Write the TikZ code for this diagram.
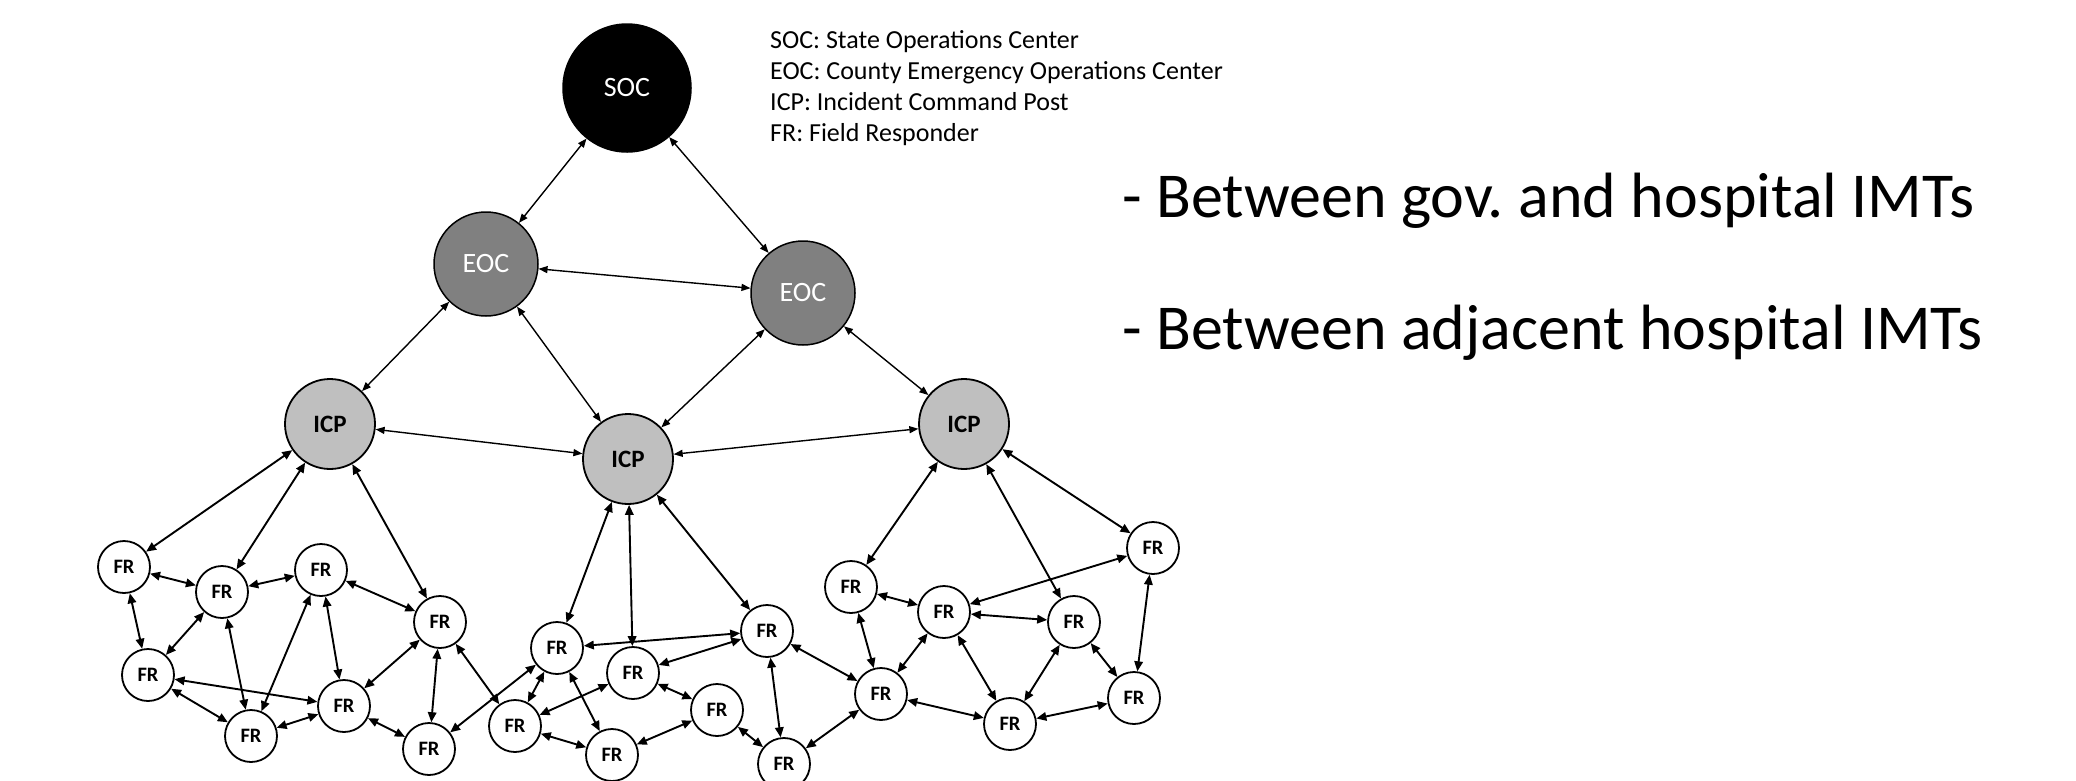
\documentclass[tikz,border=0pt]{standalone}
\usepackage{fontspec}
\setmainfont{Carlito}
\usetikzlibrary{arrows.meta}
\frenchspacing
\begin{document}
\begin{tikzpicture}[x=1pt,y=-1pt,
  socnode/.style={circle,draw=black,line width=1.5pt,fill=black,text=white,minimum size=128pt,inner sep=0pt,font=\fontsize{28}{32}\selectfont},
  eocnode/.style={circle,draw=black,line width=1.5pt,fill=black!50,text=white,minimum size=104pt,inner sep=0pt,font=\fontsize{28}{32}\selectfont},
  icpnode/.style={circle,draw=black,line width=1.8pt,fill=black!25,minimum size=90pt,inner sep=0pt,font=\fontsize{25}{29}\selectfont\bfseries},
  frnode/.style={circle,draw=black,line width=1.8pt,fill=white,minimum size=52pt,inner sep=0pt,font=\fontsize{20.5}{24}\selectfont\bfseries},
  hilink/.style={line width=1.4pt,{Triangle[length=9pt,width=7pt]}-{Triangle[length=9pt,width=7pt]}},
  lolink/.style={line width=1.9pt,{Triangle[length=10pt,width=8.5pt]}-{Triangle[length=10pt,width=8.5pt]}},
  legend/.style={anchor=base west,inner sep=0pt,font=\fontsize{26}{31}\selectfont},
  bigtext/.style={anchor=base west,inner sep=0pt,font=\fontsize{64}{77}\selectfont}]
\useasboundingbox (0,0) rectangle (2076,780);
% top levels
\node[socnode] (soc) at (627,88) {SOC};
\node[eocnode] (eoc1) at (486,264) {EOC};
\node[eocnode] (eoc2) at (803,293) {EOC};
\node[icpnode] (icp1) at (330,424) {ICP};
\node[icpnode] (icp2) at (628,459) {ICP};
\node[icpnode] (icp3) at (964,424) {ICP};
% field responders
\node[frnode] (f1) at (124,567) {FR};
\node[frnode] (f2) at (222,592) {FR};
\node[frnode] (f3) at (321,570) {FR};
\node[frnode] (f4) at (440,622) {FR};
\node[frnode] (f5) at (148,675) {FR};
\node[frnode] (f6) at (344,706) {FR};
\node[frnode] (f7) at (251,736) {FR};
\node[frnode] (f8) at (429,749) {FR};
\node[frnode] (f9) at (557,648) {FR};
\node[frnode] (f10) at (767,631) {FR};
\node[frnode] (f11) at (633,673) {FR};
\node[frnode] (f12) at (515,726) {FR};
\node[frnode] (f13) at (717,710) {FR};
\node[frnode] (f14) at (612,755) {FR};
\node[frnode] (f15) at (784,764) {FR};
\node[frnode] (f16) at (851,587) {FR};
\node[frnode] (f17) at (944,612) {FR};
\node[frnode] (f18) at (1153,548) {FR};
\node[frnode] (f19) at (1074,622) {FR};
\node[frnode] (f20) at (881,694) {FR};
\node[frnode] (f21) at (1010,724) {FR};
\node[frnode] (f22) at (1134,698) {FR};
% upper links
\foreach \a/\b in {soc/eoc1,soc/eoc2,eoc1/eoc2,eoc1/icp1,eoc1/icp2,eoc2/icp2,eoc2/icp3,icp1/icp2,icp2/icp3}
  \draw[hilink] (\a) -- (\b);
% lower links
\foreach \a/\b in {icp1/f1,icp1/f2,icp1/f4,
  f1/f2,f1/f5,f2/f3,f2/f5,f2/f7,f3/f4,f3/f6,f3/f7,f5/f6,f5/f7,f7/f6,f4/f6,f4/f8,f6/f8,f4/f12,f8/f9,
  icp2/f9,icp2/f11,icp2/f10,
  f9/f10,f9/f12,f9/f14,f11/f10,f11/f12,f11/f13,f12/f14,f14/f13,f13/f15,f10/f15,f10/f20,f15/f20,
  icp3/f16,icp3/f19,icp3/f18,
  f16/f17,f17/f18,f17/f19,f16/f20,f17/f20,f17/f21,f19/f21,f19/f22,f18/f22,f20/f21,f21/f22}
  \draw[lolink] (\a) -- (\b);
% legend
\node[legend] (l1) at (770,48) {SOC: State Operations Center};
\node[legend] (l2) at (770,79) {EOC: County Emergency Operations Center};
\node[legend] (l3) at (770,110) {ICP: Incident Command Post};
\node[legend] (l4) at (770,141) {FR: Field Responder};
% big text
\node[bigtext] (t1) at (1122,217) {- Between gov. and hospital IMTs};
\node[bigtext] (t2) at (1122,349) {- Between adjacent hospital IMTs};
\end{tikzpicture}
\end{document}
